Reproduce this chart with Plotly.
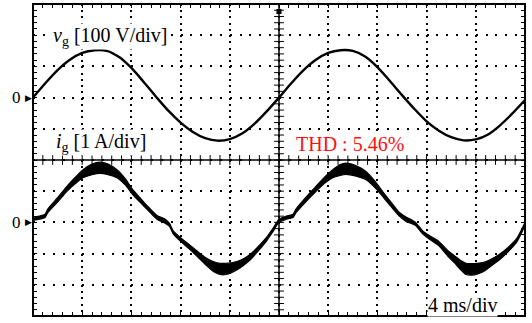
import numpy as np
import plotly.graph_objects as go

# ---- data ----
t_v = list(range(41))  # ms
v_g = [0, 46, 88, 121, 143, 152, 150, 130, 95, 50, 3,
       -42, -80, -110, -130, -138, -133, -115, -84, -44, 0,
       46, 88, 121, 143, 152, 150, 132, 98, 54, 8,
       -36, -76, -106, -127, -137, -134, -118, -88, -50, -8]  # V

t_i = [0.0, 0.5, 0.98, 1.2, 2.0, 2.74, 3.4, 4.07, 4.8, 5.45,
       6.1, 6.83, 7.5, 8.13, 8.7, 9.27, 10.08, 10.7, 11.1, 11.4,
       12.0, 12.76, 13.5, 14.15, 14.7, 15.2, 15.7, 16.26, 17.0, 17.64,
       18.3, 19.0, 19.5, 20.0, 20.6, 21.14, 21.38, 22.2, 23.0, 23.7,
       24.37, 24.9, 25.45, 26.2, 27.07, 27.8, 28.43, 29.1, 29.76, 30.3,
       31.1, 31.68, 32.3, 33.0, 33.7, 34.4, 34.8, 35.2, 35.9, 36.56,
       37.2, 37.9, 38.6, 39.3, 40.0]  # ms
i_g = [0.11, 0.15, 0.21, 0.37, 0.72, 1.07, 1.33, 1.56, 1.70, 1.75,
       1.70, 1.56, 1.30, 0.96, 0.72, 0.48, 0.16, 0.05, -0.08, -0.32,
       -0.55, -0.80, -1.06, -1.28, -1.42, -1.49, -1.49, -1.44, -1.30, -1.12,
       -0.85, -0.53, -0.25, 0.05, 0.15, 0.21, 0.37, 0.74, 1.07, 1.35,
       1.56, 1.67, 1.72, 1.66, 1.50, 1.22, 0.91, 0.58, 0.27, 0.11,
       -0.05, -0.32, -0.50, -0.68, -0.98, -1.23, -1.38, -1.49, -1.50, -1.44,
       -1.30, -1.12, -0.88, -0.59, -0.05]  # A
i_band = [0.05, 0.05, 0.05, 0.06, 0.07, 0.08, 0.10, 0.13, 0.17, 0.18,
          0.17, 0.13, 0.10, 0.08, 0.07, 0.06, 0.06, 0.07, 0.05, 0.05,
          0.06, 0.07, 0.09, 0.12, 0.16, 0.18, 0.18, 0.15, 0.11, 0.09,
          0.07, 0.06, 0.05, 0.05, 0.05, 0.05, 0.06, 0.07, 0.08, 0.10,
          0.13, 0.17, 0.18, 0.17, 0.13, 0.10, 0.08, 0.07, 0.06, 0.07,
          0.05, 0.05, 0.06, 0.07, 0.09, 0.12, 0.15, 0.18, 0.18, 0.15,
          0.11, 0.09, 0.07, 0.06, 0.05]  # A (half thickness of noisy trace)

v_range = [-700, 300]   # 100 V/div, 10 div
i_range = [-3, 7]       # 1 A/div, 10 div
t_range = [0, 40]       # 4 ms/div

FONT = "Liberation Serif, Times New Roman, serif"

fig = go.Figure()

# current noisy band
i_up = [a + b for a, b in zip(i_g, i_band)]
i_lo = [a - b for a, b in zip(i_g, i_band)]
fig.add_trace(go.Scatter(x=t_i, y=i_up, yaxis="y2", mode="lines",
                         line=dict(color="black", width=1.2, shape="spline", smoothing=0.6),
                         hoverinfo="skip", showlegend=False))
fig.add_trace(go.Scatter(x=t_i, y=i_lo, yaxis="y2", mode="lines", fill="tonexty",
                         fillcolor="black",
                         line=dict(color="black", width=1.2, shape="spline", smoothing=0.6),
                         hoverinfo="skip", showlegend=False))
# voltage trace
fig.add_trace(go.Scatter(x=t_v, y=v_g, mode="lines",
                         line=dict(color="black", width=2.4, shape="spline", smoothing=0.8),
                         showlegend=False))

# center cross ticks
cx = np.arange(0, 40.001, 0.8)
fig.add_trace(go.Scatter(x=cx, y=[-200] * len(cx), mode="markers",
                         marker=dict(symbol="line-ns", size=7, line=dict(color="black", width=1)),
                         hoverinfo="skip", showlegend=False))
cy = np.arange(-700, 300.001, 20)
fig.add_trace(go.Scatter(x=[20] * len(cy), y=cy, mode="markers",
                         marker=dict(symbol="line-ew", size=7, line=dict(color="black", width=1)),
                         hoverinfo="skip", showlegend=False))
# trigger marker
fig.add_trace(go.Scatter(x=[20], y=[276], mode="markers",
                         marker=dict(symbol="square", size=5, color="black"),
                         hoverinfo="skip", showlegend=False, cliponaxis=False))

fig.add_shape(type="line", xref="x", yref="y", x0=0, x1=40, y0=-200, y1=-200,
              line=dict(color="black", width=1.5))
fig.add_shape(type="line", xref="x", yref="y", x0=20, x1=20, y0=-700, y1=300,
              line=dict(color="black", width=1.5))
# frame
fig.add_shape(type="rect", xref="paper", yref="paper", x0=0, x1=1, y0=0, y1=1,
              line=dict(color="black", width=2), layer="above")

ann = dict(showarrow=False, bgcolor="white", borderpad=0,
           font=dict(family=FONT, size=20, color="black"))
fig.add_annotation(text="<i>v</i><sub>g</sub> [100 V/div]", xref="paper", yref="paper",
                   x=0.038, y=0.897, xanchor="left", yanchor="middle", **ann)
fig.add_annotation(text="<i>i</i><sub>g</sub> [1 A/div]", xref="paper", yref="paper",
                   x=0.044, y=0.556, xanchor="left", yanchor="middle", **ann)
fig.add_annotation(text="THD : 5.46%", xref="paper", yref="paper",
                   x=0.533, y=0.55, xanchor="left", yanchor="middle",
                   showarrow=False, bgcolor="white", borderpad=0,
                   font=dict(family=FONT, size=20, color="#ff1010"))
fig.add_annotation(text="4 ms/div", xref="paper", yref="paper",
                   x=0.800, y=0.034, xanchor="left", yanchor="middle", **ann)
for yr in ["y", "y2"]:
    fig.add_annotation(text="0", xref="paper", yref=yr, x=-0.034, y=0,
                       xanchor="center", yanchor="middle", showarrow=False,
                       font=dict(family=FONT, size=17, color="black"))
    fig.add_annotation(text="\u25B6", xref="paper", yref=yr, x=0.0, y=0,
                       xanchor="right", yanchor="middle", showarrow=False,
                       xshift=1,
                       font=dict(family="DejaVu Sans", size=9, color="black"))

fig.update_layout(
    width=532, height=323,
    margin=dict(l=33, r=7, t=4, b=7),
    paper_bgcolor="white", plot_bgcolor="white",
    xaxis=dict(range=t_range, dtick=4, showgrid=True, gridcolor="black", gridwidth=2,
               griddash="2px,4.24px", zeroline=False, showticklabels=False,
               showline=False, mirror="allticks",
               ticks="inside", ticklen=4, tickcolor="black", tickwidth=1,
               minor=dict(dtick=0.8, ticks="inside", ticklen=4, tickcolor="black",
                          tickwidth=1, showgrid=False)),
    yaxis=dict(range=v_range, dtick=100, showgrid=True, gridcolor="black", gridwidth=2,
               griddash="2px,7.84px", zeroline=False, showticklabels=False,
               showline=False, mirror="allticks",
               ticks="inside", ticklen=4, tickcolor="black", tickwidth=1,
               minor=dict(dtick=20, ticks="inside", ticklen=4, tickcolor="black",
                          tickwidth=1, showgrid=False)),
    yaxis2=dict(range=i_range, overlaying="y", visible=False),
)

fig.write_html("out.html", post_script="document.body.style.margin='0';",
               config={"displayModeBar": False, "staticPlot": True})
